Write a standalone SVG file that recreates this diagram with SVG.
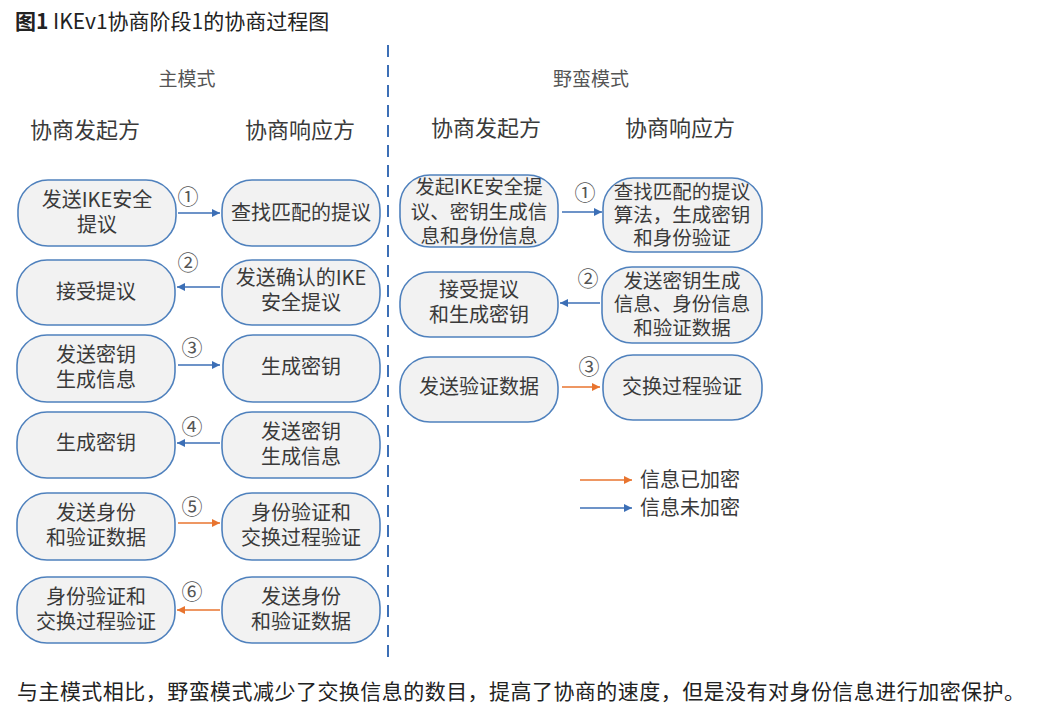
<svg xmlns="http://www.w3.org/2000/svg" width="1039" height="717" viewBox="0 0 1039 717">
<defs>
<marker id="ab" viewBox="0 0 10 10" refX="10" refY="5" markerWidth="11" markerHeight="8" markerUnits="userSpaceOnUse" orient="auto"><path d="M0,0L10,5L0,10z" fill="#3c6fb6"/></marker>
<marker id="ao" viewBox="0 0 10 10" refX="10" refY="5" markerWidth="11" markerHeight="8" markerUnits="userSpaceOnUse" orient="auto"><path d="M0,0L10,5L0,10z" fill="#e8742f"/></marker>
</defs>
<style>
text{font-family:"Noto Sans CJK SC","Microsoft YaHei",sans-serif;fill:#3a3a3a}
.box{fill:#f2f2f2;stroke:#4f81bd;stroke-width:1.6}
.t{font-size:20px;text-anchor:middle}
.t3{font-size:19.5px;text-anchor:middle}
.h{font-size:22px;text-anchor:middle}
.m{font-size:19px;text-anchor:middle;fill:#555}
.n{font-size:21px;text-anchor:middle;fill:#555}
.b{stroke:#3c6fb6;stroke-width:1.6;fill:none;marker-end:url(#ab)}
.o{stroke:#e8742f;stroke-width:1.6;fill:none;marker-end:url(#ao)}
</style>
<rect width="1039" height="717" fill="#fff"/>
<text x="15" y="29" style="font-size:21px;fill:#222"><tspan font-weight="bold">图1</tspan> IKEv1协商阶段1的协商过程图</text>
<line x1="388" y1="45" x2="388" y2="657" stroke="#3c6fb6" stroke-width="2" stroke-dasharray="12 8"/>
<text class="m" x="187" y="86">主模式</text>
<text class="h" x="85" y="138">协商发起方</text>
<text class="h" x="300" y="138">协商响应方</text>
<text class="m" x="591" y="86">野蛮模式</text>
<text class="h" x="486" y="136">协商发起方</text>
<text class="h" x="680" y="136">协商响应方</text>

<g id="m1l"><rect class="box" x="18" y="180" width="158" height="66" rx="30"/><text class="t" x="97" y="207">发送IKE安全<tspan x="97" dy="25">提议</tspan></text></g>
<g id="m1r"><rect class="box" x="222" y="180" width="158" height="66" rx="30"/><text class="t" x="301" y="220">查找匹配的提议</text></g>
<g id="m2l"><rect class="box" x="17" y="260" width="158" height="65" rx="30"/><text class="t" x="96" y="299">接受提议</text></g>
<g id="m2r"><rect class="box" x="222" y="260" width="158" height="65" rx="30"/><text class="t" x="301" y="285">发送确认的IKE<tspan x="301" dy="25">安全提议</tspan></text></g>
<g id="m3l"><rect class="box" x="17" y="335" width="158" height="67" rx="30"/><text class="t" x="96" y="362">发送密钥<tspan x="96" dy="25">生成信息</tspan></text></g>
<g id="m3r"><rect class="box" x="223" y="335" width="157" height="67" rx="30"/><text class="t" x="301" y="374">生成密钥</text></g>
<g id="m4l"><rect class="box" x="17" y="412" width="158" height="66" rx="30"/><text class="t" x="96" y="450">生成密钥</text></g>
<g id="m4r"><rect class="box" x="222" y="412" width="158" height="66" rx="30"/><text class="t" x="301" y="439">发送密钥<tspan x="301" dy="25">生成信息</tspan></text></g>
<g id="m5l"><rect class="box" x="17" y="493" width="158" height="67" rx="30"/><text class="t" x="96" y="520">发送身份<tspan x="96" dy="25">和验证数据</tspan></text></g>
<g id="m5r"><rect class="box" x="222" y="493" width="158" height="67" rx="30"/><text class="t" x="301" y="520">身份验证和<tspan x="301" dy="25">交换过程验证</tspan></text></g>
<g id="m6l"><rect class="box" x="17" y="577" width="158" height="66" rx="30"/><text class="t" x="96" y="604">身份验证和<tspan x="96" dy="25">交换过程验证</tspan></text></g>
<g id="m6r"><rect class="box" x="222" y="577" width="158" height="66" rx="30"/><text class="t" x="301" y="604">发送身份<tspan x="301" dy="25">和验证数据</tspan></text></g>

<g id="a1l"><rect class="box" x="400" y="175" width="158" height="72" rx="30"/><text class="t3" x="479" y="194">发起IKE安全提<tspan x="479" dy="25">议、密钥生成信</tspan><tspan x="479" dy="24">息和身份信息</tspan></text></g>
<g id="a1r"><rect class="box" x="603" y="178" width="159" height="74" rx="30"/><text class="t3" x="682" y="199">查找匹配的提议<tspan x="682" dy="23">算法，生成密钥</tspan><tspan x="682" dy="23">和身份验证</tspan></text></g>
<g id="a2l"><rect class="box" x="400" y="272" width="158" height="65" rx="30"/><text class="t" x="479" y="297">接受提议<tspan x="479" dy="25">和生成密钥</tspan></text></g>
<g id="a2r"><rect class="box" x="602" y="267" width="160" height="76" rx="30"/><text class="t3" x="682" y="288">发送密钥生成<tspan x="682" dy="23">信息、身份信息</tspan><tspan x="682" dy="24">和验证数据</tspan></text></g>
<g id="a3l"><rect class="box" x="400" y="357" width="158" height="65" rx="30"/><text class="t" x="479" y="394">发送验证数据</text></g>
<g id="a3r"><rect class="box" x="603" y="355" width="159" height="65" rx="30"/><text class="t" x="682" y="394">交换过程验证</text></g>

<g id="connectors">
<line class="b" x1="178" y1="213" x2="220" y2="213"/>
<line class="b" x1="220" y1="287" x2="177" y2="287"/>
<line class="b" x1="178" y1="365" x2="220" y2="365"/>
<line class="b" x1="220" y1="443" x2="177" y2="443"/>
<line class="o" x1="178" y1="523" x2="220" y2="523"/>
<line class="o" x1="220" y1="610" x2="177" y2="610"/>
<line class="b" x1="562" y1="212" x2="602" y2="212"/>
<line class="b" x1="600" y1="303" x2="560" y2="303"/>
<line class="o" x1="562" y1="387" x2="600" y2="387"/>
<text class="n" x="188" y="204">①</text>
<text class="n" x="188" y="270">②</text>
<text class="n" x="192" y="355">③</text>
<text class="n" x="192" y="434">④</text>
<text class="n" x="192" y="514">⑤</text>
<text class="n" x="192" y="599">⑥</text>
<text class="n" x="585" y="200">①</text>
<text class="n" x="588" y="286">②</text>
<text class="n" x="589" y="374">③</text>
</g>

<g id="legend">
<line class="o" x1="580" y1="480" x2="632" y2="480"/>
<text x="640" y="487" style="font-size:20px">信息已加密</text>
<line class="b" x1="580" y1="508" x2="632" y2="508"/>
<text x="640" y="515" style="font-size:20px">信息未加密</text>
</g>

<text x="17" y="699" style="font-size:21px;fill:#222" textLength="1008" lengthAdjust="spacing">与主模式相比，野蛮模式减少了交换信息的数目，提高了协商的速度，但是没有对身份信息进行加密保护。</text>
</svg>
